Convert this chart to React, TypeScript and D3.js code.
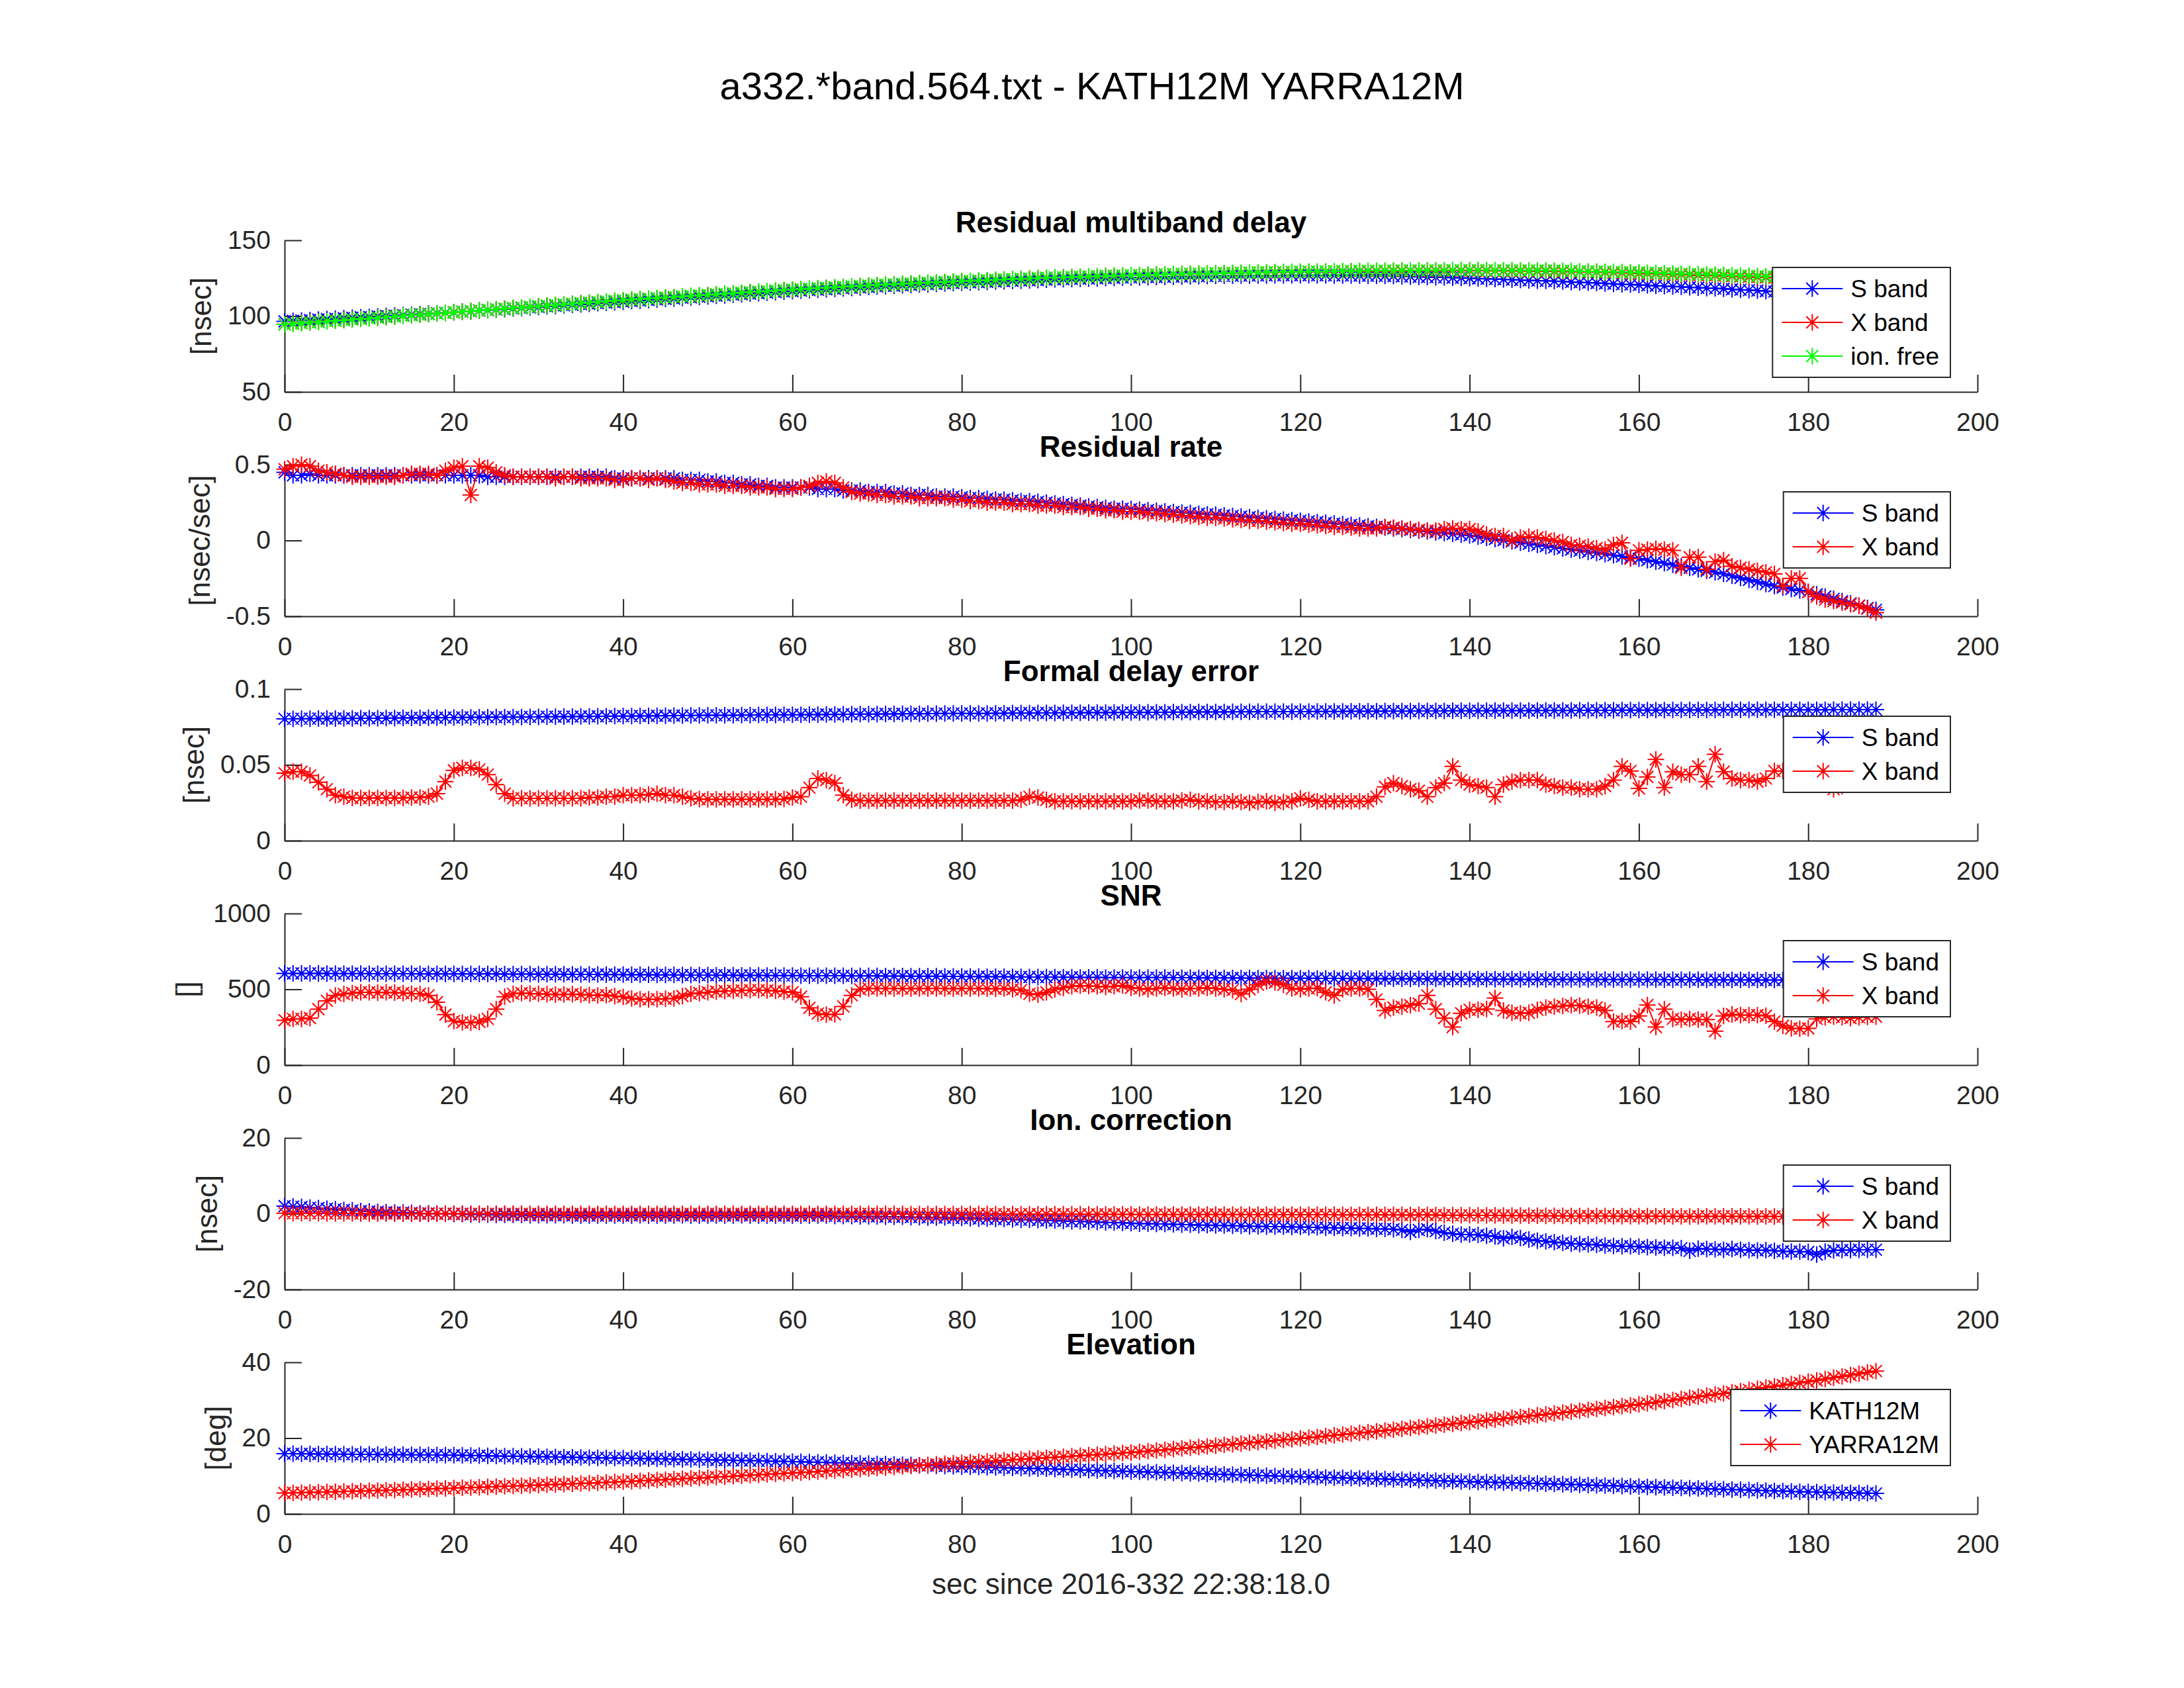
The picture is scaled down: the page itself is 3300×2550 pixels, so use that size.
import { useEffect, useRef } from 'react'
import * as d3 from 'd3'

// sample times [s]
const secs = d3.range(0, 189)
const xTicks = [0, 20, 40, 60, 80, 100, 120, 140, 160, 180, 200]

const mainTitle = 'a332.*band.564.txt - KATH12M YARRA12M'
const xLabel = 'sec since 2016-332 22:38:18.0'

// Residual multiband delay [nsec]
const delayS = [
  96.5, 96.8, 97.1, 97.4, 97.7, 98, 98.3, 98.6, 98.9, 99.2,
  99.5, 99.8, 100.1, 100.4, 100.7, 101, 101.3, 101.6, 101.9, 102.2,
  102.5, 102.9, 103.2, 103.6, 103.9, 104.3, 104.6, 105, 105.3, 105.7,
  106, 106.4, 106.7, 107.1, 107.4, 107.8, 108.1, 108.5, 108.8, 109.2,
  109.5, 109.9, 110.2, 110.6, 110.9, 111.3, 111.6, 112, 112.3, 112.7,
  113, 113.4, 113.7, 114.1, 114.4, 114.8, 115.1, 115.5, 115.8, 116.2,
  116.5, 116.8, 117.1, 117.4, 117.7, 118, 118.3, 118.6, 118.9, 119.2,
  119.5, 119.8, 120, 120.3, 120.5, 120.8, 121, 121.3, 121.5, 121.8,
  122, 122.2, 122.4, 122.6, 122.8, 123, 123.2, 123.4, 123.6, 123.8,
  124, 124.2, 124.3, 124.5, 124.6, 124.8, 124.9, 125.1, 125.2, 125.4,
  125.5, 125.6, 125.7, 125.8, 125.9, 126, 126.1, 126.2, 126.3, 126.4,
  126.5, 126.6, 126.6, 126.7, 126.7, 126.8, 126.8, 126.9, 126.9, 127,
  127, 127, 126.9, 126.9, 126.8, 126.8, 126.7, 126.7, 126.6, 126.6,
  126.5, 126.4, 126.2, 126.1, 125.9, 125.8, 125.6, 125.5, 125.3, 125.2,
  125, 124.8, 124.6, 124.4, 124.2, 124, 123.8, 123.6, 123.4, 123.2,
  123, 122.8, 122.5, 122.3, 122, 121.8, 121.5, 121.3, 121, 120.8,
  120.5, 120.3, 120, 119.8, 119.5, 119.3, 119, 118.8, 118.5, 118.3,
  118, 117.7, 117.4, 117.1, 116.8, 116.5, 116.2, 115.9, 115.6, 115.3,
  115, 114.8, 114.5, 114.3, 114, 113.8, 113.5, 113.3, 113
]
const delayX = [
  94.7, 95.1, 95.5, 95.9, 96.3, 96.7, 97, 97.4, 97.8, 98.2,
  98.6, 99, 99.4, 99.8, 100.2, 100.6, 100.9, 101.3, 101.7, 102.1,
  102.5, 102.9, 103.3, 103.7, 104.1, 104.5, 104.9, 105.3, 105.7, 106.1,
  106.5, 106.9, 107.3, 107.7, 108.1, 108.5, 108.8, 109.2, 109.6, 110,
  110.4, 110.8, 111.1, 111.5, 111.8, 112.2, 112.5, 112.9, 113.2, 113.6,
  113.9, 114.3, 114.6, 115, 115.3, 115.7, 116, 116.4, 116.7, 117.1,
  117.4, 117.7, 118, 118.3, 118.6, 118.9, 119.2, 119.5, 119.8, 120.1,
  120.4, 120.7, 120.9, 121.2, 121.4, 121.7, 121.9, 122.2, 122.4, 122.7,
  122.9, 123.1, 123.4, 123.6, 123.8, 124.1, 124.3, 124.5, 124.7, 125,
  125.2, 125.4, 125.5, 125.7, 125.9, 126.1, 126.2, 126.4, 126.6, 126.7,
  126.9, 127, 127.2, 127.3, 127.4, 127.6, 127.7, 127.8, 127.9, 128.1,
  128.2, 128.3, 128.4, 128.5, 128.6, 128.7, 128.7, 128.8, 128.9, 129,
  129.1, 129.2, 129.2, 129.3, 129.4, 129.4, 129.5, 129.5, 129.6, 129.6,
  129.7, 129.7, 129.7, 129.8, 129.8, 129.8, 129.8, 129.8, 129.9, 129.9,
  129.9, 129.9, 129.9, 129.8, 129.8, 129.8, 129.7, 129.7, 129.6, 129.6,
  129.5, 129.4, 129.3, 129.2, 129.1, 129, 128.8, 128.7, 128.5, 128.4,
  128.2, 128, 127.9, 127.7, 127.5, 127.4, 127.2, 127, 126.9, 126.7,
  126.5, 126.3, 126.1, 125.9, 125.7, 125.5, 125.3, 125.1, 124.8, 124.6,
  124.4, 124.2, 124, 123.8, 123.6, 123.3, 123.1, 122.9, 122.7
]
const delayIonFree = [
  94.5, 94.9, 95.3, 95.7, 96.1, 96.5, 96.9, 97.3, 97.7, 98.1,
  98.5, 98.9, 99.3, 99.7, 100.1, 100.5, 100.9, 101.3, 101.7, 102.1,
  102.5, 102.9, 103.3, 103.7, 104.1, 104.5, 104.9, 105.3, 105.7, 106.1,
  106.5, 106.9, 107.3, 107.7, 108.1, 108.5, 108.9, 109.3, 109.7, 110.1,
  110.5, 110.9, 111.2, 111.6, 111.9, 112.3, 112.6, 113, 113.3, 113.7,
  114, 114.4, 114.7, 115.1, 115.4, 115.8, 116.1, 116.5, 116.8, 117.2,
  117.5, 117.8, 118.1, 118.4, 118.7, 119, 119.3, 119.6, 119.9, 120.2,
  120.5, 120.8, 121, 121.3, 121.5, 121.8, 122, 122.3, 122.5, 122.8,
  123, 123.2, 123.5, 123.7, 123.9, 124.2, 124.4, 124.6, 124.8, 125.1,
  125.3, 125.5, 125.6, 125.8, 126, 126.2, 126.3, 126.5, 126.7, 126.8,
  127, 127.1, 127.3, 127.4, 127.5, 127.7, 127.8, 127.9, 128.1, 128.2,
  128.3, 128.4, 128.5, 128.6, 128.7, 128.8, 128.9, 129, 129.1, 129.2,
  129.3, 129.4, 129.4, 129.5, 129.6, 129.7, 129.7, 129.8, 129.9, 129.9,
  130, 130, 130.1, 130.1, 130.1, 130.2, 130.2, 130.2, 130.3, 130.3,
  130.3, 130.3, 130.3, 130.2, 130.2, 130.2, 130.1, 130.1, 130.1, 130,
  130, 129.9, 129.8, 129.6, 129.5, 129.4, 129.3, 129.2, 129, 128.9,
  128.8, 128.6, 128.5, 128.3, 128.2, 128, 127.8, 127.7, 127.5, 127.4,
  127.2, 127, 126.8, 126.6, 126.4, 126.2, 126, 125.8, 125.6, 125.4,
  125.2, 125, 124.8, 124.6, 124.3, 124.1, 123.9, 123.7, 123.5
]

// Residual rate [nsec/sec]
const rateS = [
  0.45, 0.43, 0.43, 0.44, 0.43, 0.43, 0.43, 0.43, 0.43, 0.43,
  0.43, 0.43, 0.43, 0.43, 0.43, 0.43, 0.43, 0.43, 0.43, 0.43,
  0.43, 0.43, 0.43, 0.43, 0.42, 0.42, 0.42, 0.42, 0.42, 0.42,
  0.42, 0.42, 0.42, 0.42, 0.42, 0.42, 0.42, 0.42, 0.42, 0.41,
  0.41, 0.41, 0.41, 0.41, 0.41, 0.41, 0.41, 0.40, 0.40, 0.40,
  0.39, 0.39, 0.38, 0.38, 0.37, 0.37, 0.36, 0.36, 0.35, 0.35,
  0.35, 0.35, 0.35, 0.34, 0.34, 0.34, 0.33, 0.33, 0.33, 0.32,
  0.32, 0.32, 0.31, 0.31, 0.30, 0.30, 0.30, 0.29, 0.29, 0.29,
  0.285, 0.28, 0.28, 0.275, 0.27, 0.27, 0.265, 0.26, 0.26, 0.255,
  0.25, 0.245, 0.24, 0.235, 0.23, 0.225, 0.22, 0.215, 0.21, 0.21,
  0.207, 0.203, 0.2, 0.196, 0.192, 0.188, 0.185, 0.181, 0.177, 0.173,
  0.17, 0.166, 0.162, 0.158, 0.154, 0.15, 0.146, 0.142, 0.138, 0.134,
  0.13, 0.126, 0.121, 0.117, 0.112, 0.108, 0.103, 0.099, 0.094, 0.09,
  0.085, 0.08, 0.075, 0.07, 0.065, 0.06, 0.054, 0.049, 0.044, 0.039,
  0.034, 0.026, 0.018, 0.01, 0.002, -0.006, -0.014, -0.022, -0.03, -0.037,
  -0.045, -0.052, -0.06, -0.067, -0.075, -0.082, -0.09, -0.097, -0.105, -0.112,
  -0.12, -0.13, -0.14, -0.15, -0.16, -0.17, -0.18, -0.19, -0.2, -0.21,
  -0.22, -0.233, -0.247, -0.26, -0.273, -0.287, -0.3, -0.31, -0.32, -0.33,
  -0.34, -0.355, -0.37, -0.385, -0.4, -0.415, -0.43, -0.445, -0.457
]
const rateX = [
  0.47, 0.49, 0.5, 0.49, 0.46, 0.45, 0.44, 0.43, 0.42, 0.42,
  0.42, 0.42, 0.42, 0.42, 0.43, 0.44, 0.44, 0.44, 0.43, 0.46,
  0.48, 0.49, 0.30, 0.49, 0.48, 0.45, 0.43, 0.42, 0.42, 0.42,
  0.42, 0.42, 0.41, 0.42, 0.42, 0.41, 0.41, 0.41, 0.41, 0.40,
  0.40, 0.41, 0.41, 0.40, 0.41, 0.40, 0.39, 0.38, 0.38, 0.37,
  0.37, 0.37, 0.36, 0.36, 0.36, 0.35, 0.35, 0.35, 0.34, 0.34,
  0.34, 0.35, 0.36, 0.38, 0.39, 0.38, 0.35, 0.32, 0.31, 0.31,
  0.30, 0.30, 0.29, 0.29, 0.29, 0.28, 0.28, 0.28, 0.28, 0.27,
  0.27, 0.26, 0.26, 0.25, 0.25, 0.25, 0.24, 0.24, 0.24, 0.23,
  0.23, 0.23, 0.22, 0.22, 0.22, 0.21, 0.21, 0.2, 0.2, 0.19,
  0.19, 0.19, 0.18, 0.18, 0.175, 0.17, 0.165, 0.16, 0.155, 0.15,
  0.15, 0.145, 0.14, 0.135, 0.13, 0.13, 0.125, 0.12, 0.115, 0.11,
  0.11, 0.105, 0.1, 0.095, 0.09, 0.09, 0.085, 0.08, 0.08, 0.08,
  0.09, 0.085, 0.08, 0.075, 0.07, 0.065, 0.065, 0.075, 0.08, 0.075,
  0.075, 0.06, 0.04, 0.03, 0.03, 0.0, 0.02, 0.025, 0.02, 0.01,
  0.0, -0.01, -0.03, -0.035, -0.04, -0.05, -0.06, -0.03, -0.015, -0.12,
  -0.065, -0.06, -0.055, -0.06, -0.065, -0.18, -0.11, -0.11, -0.19, -0.14,
  -0.13, -0.17, -0.18, -0.19, -0.2, -0.21, -0.22, -0.3, -0.25, -0.25,
  -0.34, -0.37, -0.39, -0.4, -0.41, -0.42, -0.43, -0.45, -0.476
]

// Formal delay error [nsec]
const fdeS = [
  0.0804, 0.0804, 0.0805, 0.0805, 0.0806, 0.0806, 0.0806, 0.0807, 0.0807, 0.0808,
  0.0808, 0.0808, 0.0809, 0.0809, 0.081, 0.081, 0.081, 0.0811, 0.0811, 0.0812,
  0.0812, 0.0813, 0.0813, 0.0814, 0.0814, 0.0815, 0.0815, 0.0816, 0.0816, 0.0817,
  0.0817, 0.0818, 0.0818, 0.0819, 0.0819, 0.082, 0.082, 0.0821, 0.0821, 0.0822,
  0.0822, 0.0822, 0.0823, 0.0823, 0.0824, 0.0824, 0.0825, 0.0825, 0.0826, 0.0826,
  0.0827, 0.0827, 0.0828, 0.0828, 0.0829, 0.0829, 0.083, 0.083, 0.083, 0.0831,
  0.0831, 0.0831, 0.0832, 0.0832, 0.0833, 0.0833, 0.0834, 0.0834, 0.0835, 0.0835,
  0.0835, 0.0836, 0.0836, 0.0837, 0.0837, 0.0837, 0.0838, 0.0838, 0.0839, 0.0839,
  0.0839, 0.084, 0.084, 0.084, 0.0841, 0.0841, 0.0842, 0.0842, 0.0842, 0.0843,
  0.0843, 0.0843, 0.0844, 0.0844, 0.0844, 0.0845, 0.0845, 0.0845, 0.0846, 0.0846,
  0.0846, 0.0846, 0.0847, 0.0847, 0.0847, 0.0848, 0.0848, 0.0848, 0.0849, 0.0849,
  0.0849, 0.0849, 0.085, 0.085, 0.085, 0.0851, 0.0851, 0.0851, 0.0852, 0.0852,
  0.0852, 0.0852, 0.0853, 0.0853, 0.0853, 0.0853, 0.0854, 0.0854, 0.0854, 0.0854,
  0.0855, 0.0855, 0.0855, 0.0855, 0.0856, 0.0856, 0.0856, 0.0856, 0.0857, 0.0857,
  0.0857, 0.0857, 0.0857, 0.0858, 0.0858, 0.0858, 0.0858, 0.0858, 0.0859, 0.0859,
  0.0859, 0.0859, 0.0859, 0.086, 0.086, 0.086, 0.086, 0.086, 0.0861, 0.0861,
  0.0861, 0.0861, 0.0861, 0.0861, 0.0862, 0.0862, 0.0862, 0.0862, 0.0862, 0.0862,
  0.0863, 0.0863, 0.0863, 0.0863, 0.0863, 0.0863, 0.0864, 0.0864, 0.0864, 0.0864,
  0.0864, 0.0864, 0.0864, 0.0865, 0.0865, 0.0865, 0.0865, 0.0865, 0.0865
]
const fdeX = [
  0.0445, 0.0455, 0.0455, 0.043, 0.0385, 0.034, 0.030, 0.029, 0.0282, 0.0282,
  0.0282, 0.0282, 0.0282, 0.0282, 0.0282, 0.0285, 0.0285, 0.029, 0.031, 0.039,
  0.0464, 0.048, 0.048, 0.047, 0.0436, 0.037, 0.031, 0.028, 0.028, 0.028,
  0.028, 0.028, 0.028, 0.028, 0.028, 0.028, 0.0285, 0.0285, 0.029, 0.029,
  0.030, 0.030, 0.030, 0.0305, 0.031, 0.030, 0.030, 0.029, 0.028, 0.0275,
  0.0273, 0.0273, 0.0273, 0.0273, 0.0273, 0.0273, 0.0273, 0.0273, 0.0273, 0.0275,
  0.0285, 0.029, 0.035, 0.041, 0.040, 0.038, 0.030, 0.027, 0.0264, 0.0264,
  0.0264, 0.0264, 0.0264, 0.0264, 0.0264, 0.0264, 0.0264, 0.0264, 0.0264, 0.0264,
  0.0264, 0.0264, 0.0264, 0.0264, 0.0264, 0.0264, 0.0264, 0.027, 0.029, 0.0285,
  0.027, 0.026, 0.026, 0.026, 0.026, 0.026, 0.026, 0.026, 0.026, 0.026,
  0.026, 0.0265, 0.0265, 0.026, 0.026, 0.026, 0.0265, 0.027, 0.026, 0.026,
  0.0255, 0.0255, 0.026, 0.0255, 0.025, 0.0255, 0.026, 0.025, 0.0255, 0.026,
  0.028, 0.027, 0.026, 0.026, 0.026, 0.026, 0.026, 0.026, 0.026, 0.029,
  0.0355, 0.038, 0.036, 0.034, 0.033, 0.029, 0.035, 0.038, 0.049, 0.04,
  0.037, 0.036, 0.035, 0.029, 0.037, 0.039, 0.040, 0.040, 0.040, 0.037,
  0.036, 0.035, 0.035, 0.034, 0.034, 0.034, 0.036, 0.040, 0.049, 0.046,
  0.0345, 0.042, 0.0536, 0.035, 0.0455, 0.0436, 0.0436, 0.049, 0.039, 0.057,
  0.0455, 0.041, 0.040, 0.040, 0.039, 0.041, 0.046, 0.046, 0.045, 0.044,
  0.046, 0.042, 0.038, 0.034, 0.036, 0.04, 0.042, 0.044, 0.045
]

// SNR
const snrS = [
  605, 605, 605, 605, 605, 604, 604, 604, 604, 604,
  603, 603, 603, 603, 603, 603, 602, 602, 602, 602,
  602, 602, 601, 601, 601, 601, 600, 600, 600, 600,
  599, 599, 599, 599, 598, 598, 598, 598, 597, 597,
  597, 596, 596, 596, 595, 595, 595, 594, 594, 594,
  594, 593, 593, 593, 592, 592, 592, 591, 591, 591,
  591, 590, 590, 590, 589, 589, 589, 588, 588, 588,
  588, 587, 587, 587, 586, 586, 586, 586, 585, 585,
  585, 584, 584, 583, 583, 583, 582, 582, 581, 581,
  581, 581, 580, 580, 579, 579, 579, 578, 578, 578,
  578, 578, 577, 577, 577, 576, 576, 576, 575, 575,
  575, 575, 575, 574, 574, 574, 574, 573, 573, 573,
  573, 573, 572, 572, 572, 572, 571, 571, 571, 570,
  570, 570, 570, 569, 569, 569, 569, 568, 568, 568,
  568, 568, 567, 567, 567, 567, 566, 566, 566, 566,
  566, 565, 565, 565, 565, 565, 564, 564, 564, 564,
  564, 564, 564, 563, 563, 563, 563, 563, 562, 562,
  562, 562, 562, 562, 561, 561, 561, 561, 561, 561,
  561, 561, 560, 560, 560, 560, 560, 560, 560
]
const snrX = [
  296, 305, 305, 310, 369, 424, 460, 469, 475, 480,
  480, 478, 480, 478, 475, 472, 470, 460, 415, 333,
  290, 282, 280, 285, 305, 369, 451, 470, 475, 472,
  470, 468, 465, 466, 468, 465, 462, 460, 462, 455,
  450, 440, 435, 433, 435, 438, 440, 455, 470, 475,
  480, 485, 488, 490, 492, 495, 494, 492, 490, 485,
  480, 451, 378, 340, 333, 335, 387, 460, 500, 505,
  505, 505, 506, 505, 504, 505, 506, 505, 505, 504,
  505, 506, 505, 504, 503, 505, 500, 495, 470, 465,
  480, 500, 510, 520, 524, 522, 520, 515, 520, 525,
  510, 505, 500, 505, 510, 505, 500, 505, 505, 510,
  505, 500, 495, 469, 500, 530, 551, 545, 530, 505,
  500, 505, 508, 480, 460, 500, 505, 505, 500, 433,
  360, 380, 385, 395, 405, 460, 369, 310, 251, 342,
  365, 365, 370, 442, 360, 345, 342, 345, 365, 380,
  385, 390, 395, 392, 385, 380, 360, 287, 290, 287,
  324, 396, 251, 369, 305, 300, 305, 300, 300, 224,
  324, 335, 330, 330, 330, 325, 287, 260, 242, 240,
  242, 305, 315, 320, 315, 310, 315, 318, 320
]

// Ion. correction [nsec]
const ionS = [
  2.0, 1.9, 1.8, 1.6, 1.5, 1.3, 1.2, 1.0, 0.9, 0.7,
  0.6, 0.5, 0.4, 0.3, 0.3, 0.2, 0.1, 0.1, 0.0, 0.0,
  -0.1, -0.1, -0.2, -0.2, -0.2, -0.3, -0.3, -0.3, -0.3, -0.4,
  -0.4, -0.4, -0.4, -0.4, -0.5, -0.5, -0.5, -0.5, -0.5, -0.5,
  -0.5, -0.5, -0.4, -0.5, -0.5, -0.5, -0.5, -0.4, -0.5, -0.5,
  -0.5, -0.5, -0.5, -0.5, -0.4, -0.5, -0.5, -0.5, -0.5, -0.5,
  -0.5, -0.5, -0.5, -0.5, -0.5, -0.6, -0.6, -0.6, -0.7, -0.7,
  -0.7, -0.8, -0.8, -0.8, -0.9, -0.9, -1.0, -1.0, -1.0, -1.1,
  -1.1, -1.2, -1.3, -1.3, -1.4, -1.4, -1.5, -1.6, -1.6, -1.7,
  -1.8, -1.8, -1.9, -2.0, -2.0, -2.1, -2.2, -2.3, -2.3, -2.4,
  -2.5, -2.6, -2.6, -2.7, -2.7, -2.8, -2.9, -2.9, -3.0, -3.0,
  -3.1, -3.1, -3.2, -3.2, -3.3, -3.3, -3.4, -3.4, -3.4, -3.5,
  -3.5, -3.6, -3.6, -3.7, -3.7, -3.8, -3.8, -3.9, -3.9, -4.0,
  -4.0, -4.1, -4.3, -4.8, -4.3, -4.1, -4.6, -5.0, -5.3, -5.5,
  -5.5, -5.6, -5.8, -6.0, -6.5, -6.1, -6.4, -6.8, -7.1, -7.3,
  -7.5, -7.7, -7.9, -8.0, -8.1, -8.2, -8.4, -8.5, -8.6, -8.6,
  -8.7, -8.8, -8.9, -9.0, -9.0, -9.1, -9.8, -9.2, -9.3, -9.4,
  -9.5, -9.3, -9.5, -9.6, -9.7, -9.6, -9.8, -9.9, -10.0, -10.0,
  -10.1, -10.8, -10.0, -9.7, -9.6, -9.6, -9.5, -9.5, -9.5
]
const ionX = [
  0.15, 0.14, 0.14, 0.12, 0.11, 0.1, 0.09, 0.08, 0.07, 0.05,
  0.05, 0.04, 0.03, 0.02, 0.02, 0.02, 0.01, 0.01, 0, 0,
  -0.01, -0.01, -0.02, -0.02, -0.02, -0.02, -0.02, -0.02, -0.02, -0.03,
  -0.03, -0.03, -0.03, -0.03, -0.04, -0.04, -0.04, -0.04, -0.04, -0.04,
  -0.04, -0.04, -0.03, -0.04, -0.04, -0.04, -0.04, -0.03, -0.04, -0.04,
  -0.04, -0.04, -0.04, -0.04, -0.03, -0.04, -0.04, -0.04, -0.04, -0.04,
  -0.04, -0.04, -0.04, -0.04, -0.04, -0.05, -0.05, -0.05, -0.05, -0.05,
  -0.05, -0.06, -0.06, -0.06, -0.07, -0.07, -0.08, -0.08, -0.08, -0.08,
  -0.08, -0.09, -0.1, -0.1, -0.11, -0.11, -0.11, -0.12, -0.12, -0.13,
  -0.14, -0.14, -0.14, -0.15, -0.15, -0.16, -0.17, -0.17, -0.17, -0.18,
  -0.19, -0.2, -0.2, -0.2, -0.2, -0.21, -0.22, -0.22, -0.23, -0.23,
  -0.23, -0.23, -0.24, -0.24, -0.25, -0.25, -0.26, -0.26, -0.26, -0.26,
  -0.26, -0.27, -0.27, -0.28, -0.28, -0.29, -0.29, -0.29, -0.29, -0.3,
  -0.3, -0.31, -0.32, -0.36, -0.32, -0.31, -0.35, -0.38, -0.4, -0.41,
  -0.41, -0.42, -0.44, -0.45, -0.49, -0.46, -0.48, -0.51, -0.53, -0.55,
  -0.56, -0.58, -0.59, -0.6, -0.61, -0.62, -0.63, -0.64, -0.65, -0.65,
  -0.65, -0.66, -0.67, -0.68, -0.68, -0.68, -0.74, -0.69, -0.7, -0.71,
  -0.71, -0.7, -0.71, -0.72, -0.73, -0.72, -0.74, -0.74, -0.75, -0.75,
  -0.76, -0.81, -0.75, -0.73, -0.72, -0.72, -0.71, -0.71, -0.71
]

// Elevation [deg]
const elevKath = [
  15.9, 15.88, 15.86, 15.84, 15.82, 15.8, 15.78, 15.76, 15.74, 15.72,
  15.7, 15.68, 15.66, 15.64, 15.62, 15.6, 15.58, 15.56, 15.54, 15.52,
  15.5, 15.46, 15.42, 15.38, 15.34, 15.3, 15.26, 15.22, 15.18, 15.14,
  15.1, 15.06, 15.02, 14.98, 14.94, 14.9, 14.86, 14.82, 14.78, 14.74,
  14.7, 14.66, 14.62, 14.58, 14.54, 14.5, 14.46, 14.42, 14.38, 14.34,
  14.3, 14.25, 14.2, 14.15, 14.1, 14.05, 14, 13.95, 13.9, 13.85,
  13.8, 13.74, 13.68, 13.62, 13.56, 13.5, 13.44, 13.38, 13.32, 13.26,
  13.2, 13.13, 13.06, 12.99, 12.92, 12.85, 12.78, 12.71, 12.64, 12.57,
  12.5, 12.44, 12.38, 12.32, 12.26, 12.2, 12.14, 12.08, 12.02, 11.96,
  11.9, 11.83, 11.76, 11.69, 11.62, 11.55, 11.48, 11.41, 11.34, 11.27,
  11.2, 11.13, 11.06, 10.99, 10.92, 10.85, 10.78, 10.71, 10.64, 10.57,
  10.5, 10.43, 10.36, 10.29, 10.22, 10.15, 10.08, 10.01, 9.94, 9.87,
  9.8, 9.74, 9.68, 9.62, 9.56, 9.5, 9.44, 9.38, 9.32, 9.26,
  9.2, 9.13, 9.06, 8.99, 8.92, 8.85, 8.78, 8.71, 8.64, 8.57,
  8.5, 8.44, 8.38, 8.32, 8.26, 8.2, 8.14, 8.08, 8.02, 7.96,
  7.9, 7.83, 7.76, 7.69, 7.62, 7.55, 7.48, 7.41, 7.34, 7.27,
  7.2, 7.13, 7.06, 6.99, 6.92, 6.85, 6.78, 6.71, 6.64, 6.57,
  6.5, 6.43, 6.36, 6.29, 6.22, 6.15, 6.08, 6.01, 5.94, 5.87,
  5.8, 5.75, 5.7, 5.65, 5.6, 5.55, 5.5, 5.45, 5.4
]
const elevYarra = [
  5.5, 5.56, 5.62, 5.68, 5.74, 5.8, 5.86, 5.92, 5.98, 6.04,
  6.1, 6.17, 6.24, 6.31, 6.38, 6.45, 6.52, 6.59, 6.66, 6.73,
  6.8, 6.88, 6.96, 7.04, 7.12, 7.2, 7.28, 7.36, 7.44, 7.52,
  7.6, 7.69, 7.78, 7.87, 7.96, 8.05, 8.14, 8.23, 8.32, 8.41,
  8.5, 8.61, 8.72, 8.83, 8.94, 9.05, 9.16, 9.27, 9.38, 9.49,
  9.6, 9.72, 9.84, 9.96, 10.08, 10.2, 10.32, 10.44, 10.56, 10.68,
  10.8, 10.93, 11.06, 11.19, 11.32, 11.45, 11.58, 11.71, 11.84, 11.97,
  12.1, 12.24, 12.38, 12.52, 12.66, 12.8, 12.94, 13.08, 13.22, 13.36,
  13.5, 13.63, 13.76, 13.89, 14.02, 14.15, 14.28, 14.41, 14.54, 14.67,
  14.8, 14.94, 15.08, 15.22, 15.36, 15.5, 15.64, 15.78, 15.92, 16.06,
  16.2, 16.38, 16.56, 16.74, 16.92, 17.1, 17.28, 17.46, 17.64, 17.82,
  18, 18.19, 18.38, 18.57, 18.76, 18.95, 19.14, 19.33, 19.52, 19.71,
  19.9, 20.11, 20.32, 20.53, 20.74, 20.95, 21.16, 21.37, 21.58, 21.79,
  22, 22.22, 22.44, 22.66, 22.88, 23.1, 23.32, 23.54, 23.76, 23.98,
  24.2, 24.43, 24.66, 24.89, 25.12, 25.35, 25.58, 25.81, 26.04, 26.27,
  26.5, 26.74, 26.98, 27.22, 27.46, 27.7, 27.94, 28.18, 28.42, 28.66,
  28.9, 29.19, 29.48, 29.77, 30.06, 30.35, 30.64, 30.93, 31.22, 31.51,
  31.8, 32.11, 32.42, 32.73, 33.04, 33.35, 33.66, 33.97, 34.28, 34.59,
  34.9, 35.25, 35.6, 35.95, 36.3, 36.65, 37, 37.35, 37.7
]

const BLUE = '#0000ff', RED = '#ff0000', GREEN = '#00ff00'

const panels = [
  { title: 'Residual multiband delay', ylabel: '[nsec]', domain: [50, 150], ticks: [50, 100, 150],
    series: [{ name: 'S band', color: BLUE, values: delayS }, { name: 'X band', color: RED, values: delayX }, { name: 'ion. free', color: GREEN, values: delayIonFree }] },
  { title: 'Residual rate', ylabel: '[nsec/sec]', domain: [-0.5, 0.5], ticks: [-0.5, 0, 0.5],
    series: [{ name: 'S band', color: BLUE, values: rateS }, { name: 'X band', color: RED, values: rateX }] },
  { title: 'Formal delay error', ylabel: '[nsec]', domain: [0, 0.1], ticks: [0, 0.05, 0.1],
    series: [{ name: 'S band', color: BLUE, values: fdeS }, { name: 'X band', color: RED, values: fdeX }] },
  { title: 'SNR', ylabel: '[]', domain: [0, 1000], ticks: [0, 500, 1000],
    series: [{ name: 'S band', color: BLUE, values: snrS }, { name: 'X band', color: RED, values: snrX }] },
  { title: 'Ion. correction', ylabel: '[nsec]', domain: [-20, 20], ticks: [-20, 0, 20],
    series: [{ name: 'S band', color: BLUE, values: ionS }, { name: 'X band', color: RED, values: ionX }] },
  { title: 'Elevation', ylabel: '[deg]', domain: [0, 40], ticks: [0, 20, 40],
    series: [{ name: 'KATH12M', color: BLUE, values: elevKath }, { name: 'YARRA12M', color: RED, values: elevYarra }] },
]

const W = 3300, H = 2550
const FONT = '"Liberation Sans", Arial, Helvetica, sans-serif'
const AXC = '#262626'
const left = 430, right = 2988
const top0 = 363, step = 339, ph = 229

// MATLAB '*' marker
function star(cx: number, cy: number) {
  const r = 12.5, d = 9
  return `M${cx},${cy - r}V${cy + r}M${cx - r},${cy}H${cx + r}` +
    `M${cx - d},${cy - d}L${cx + d},${cy + d}M${cx - d},${cy + d}L${cx + d},${cy - d}`
}

export default function App() {
  const ref = useRef<SVGSVGElement>(null)

  useEffect(() => {
    const svg = d3.select(ref.current)
    svg.selectAll('*').remove()
    svg.append('rect').attr('width', W).attr('height', H).attr('fill', '#ffffff')

    svg.append('text')
      .attr('x', 1650).attr('y', 150)
      .attr('text-anchor', 'middle')
      .style('font-family', FONT).style('font-size', '58px')
      .attr('fill', '#000')
      .text(mainTitle)

    const x = d3.scaleLinear().domain([0, 200]).range([left, right])

    panels.forEach((p, i) => {
      const top = top0 + i * step
      const bottom = top + ph
      const y = d3.scaleLinear().domain(p.domain).range([bottom, top])
      const g = svg.append('g')

      // axes, ticks pointing inward
      const xa = g.append('g')
        .attr('transform', `translate(0,${bottom})`)
        .call(d3.axisBottom(x).tickValues(xTicks).tickSize(-26).tickSizeOuter(0).tickPadding(31).tickFormat(d => String(d)))
      const ya = g.append('g')
        .attr('transform', `translate(${left},0)`)
        .call(d3.axisLeft(y).tickValues(p.ticks).tickSize(-26).tickSizeOuter(0).tickPadding(21).tickFormat(d => String(d)))
      ;[xa, ya].forEach(a => {
        a.attr('font-family', FONT).attr('font-size', 39).attr('color', AXC)
        a.selectAll('path, line').attr('stroke-width', 2)
      })

      // data
      p.series.forEach(s => {
        const pts: [number, number][] = s.values.map((v, k) => [x(secs[k]), y(v)])
        g.append('path')
          .attr('d', d3.line()(pts))
          .attr('fill', 'none').attr('stroke', s.color).attr('stroke-width', 2)
        g.append('path')
          .attr('d', pts.map(([px, py]) => star(px, py)).join(''))
          .attr('fill', 'none').attr('stroke', s.color).attr('stroke-width', 2)
      })

      // title
      g.append('text')
        .attr('x', (left + right) / 2).attr('y', top - 12)
        .attr('text-anchor', 'middle')
        .style('font-family', FONT).style('font-size', '44px').style('font-weight', 'bold')
        .attr('fill', '#000')
        .text(p.title)

      // ylabel, placed just left of the widest tick label
      let minX = left
      ya.selectAll<SVGTextElement, unknown>('text').each(function () {
        const b = this.getBBox()
        minX = Math.min(minX, left + b.x)
      })
      const lx = minX - 25
      g.append('text')
        .attr('transform', `translate(${lx},${(top + bottom) / 2}) rotate(-90)`)
        .attr('text-anchor', 'middle')
        .style('font-family', FONT).style('font-size', '44px')
        .attr('fill', AXC)
        .text(p.ylabel)

      // legend (northeast)
      const lg = g.append('g')
      const box = lg.append('rect')
      const texts = p.series.map(s =>
        lg.append('text')
          .style('font-family', FONT).style('font-size', '37px')
          .attr('fill', '#000')
          .text(s.name))
      const tw = d3.max(texts, t => (t.node() as SVGTextElement).getComputedTextLength()) || 0
      const lw = 118 + tw + 17
      const lh = 64 + 51 * (p.series.length - 1)
      const lx0 = right - 41 - lw
      const ly0 = top + 41
      box.attr('x', lx0).attr('y', ly0).attr('width', lw).attr('height', lh)
        .attr('fill', '#fff').attr('stroke', AXC).attr('stroke-width', 2)
      p.series.forEach((s, k) => {
        const cy = ly0 + 32 + 51 * k
        lg.append('line')
          .attr('x1', lx0 + 14).attr('x2', lx0 + 106).attr('y1', cy).attr('y2', cy)
          .attr('stroke', s.color).attr('stroke-width', 2)
        lg.append('path').attr('d', star(lx0 + 60, cy))
          .attr('fill', 'none').attr('stroke', s.color).attr('stroke-width', 2)
        texts[k].attr('x', lx0 + 118).attr('y', cy + 13)
      })
    })

    svg.append('text')
      .attr('x', (left + right) / 2).attr('y', 2408)
      .attr('text-anchor', 'middle')
      .style('font-family', FONT).style('font-size', '44px')
      .attr('fill', AXC)
      .text(xLabel)
  }, [])

  return (
    <svg ref={ref} width={W} height={H}
      style={{ display: 'block', position: 'absolute', left: 0, top: 0 }} />
  )
}
